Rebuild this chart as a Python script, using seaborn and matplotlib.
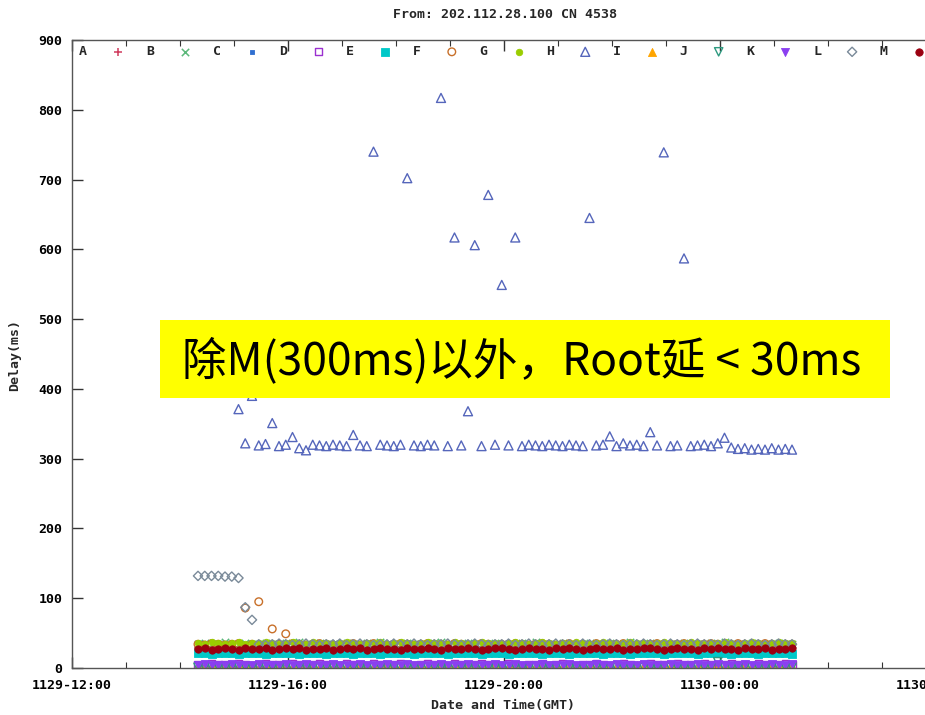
import numpy as np
import pandas as pd
import matplotlib
matplotlib.use("Agg")
import matplotlib.pyplot as plt
import seaborn as sns
from matplotlib.patches import Rectangle
from matplotlib.ticker import MultipleLocator

# ---------------- data ----------------
start_hour = 14 + 20 / 60        # first sample 1129-14:20 (hours since 1129-00:00)
step_minutes = 7.5               # sampling interval
n_samples = 89

series_names = ["A", "B", "C", "D", "E", "F", "G", "H", "I", "J", "K", "L", "M"]

A = [29,28,30,29,31,28,29,30,28,29, 30,29,28,31,29,30,28,29,29,30,
     28,29,31,30,29,28,30,29,28,29, 30,31,29,28,29,30,29,28,30,29,
     29,30,28,29,31,29,28,30,29,29, 30,28,29,30,29,31,28,29,30,29,
     28,29,30,29,28,31,29,30,29,28, 29,30,29,28,30,29,31,29,28,30,
     29,28,30,29,29,30,28,29,30]
B = [35,36,34,35,37,35,34,36,35,35, 36,34,35,36,35,37,34,35,36,35,
     34,35,36,35,34,36,35,37,35,34, 35,36,35,34,35,36,37,35,34,35,
     36,35,34,35,36,35,35,34,36,35, 37,35,34,35,36,35,34,35,36,35,
     35,36,34,35,37,35,34,36,35,35, 34,35,36,35,34,35,36,35,37,35,
     34,35,36,35,35,34,36,35,35]
C = [1,2,1,0,1,1,2,1,1,0, 1,2,1,1,0,1,1,2,1,1,
     0,1,1,2,1,1,0,1,2,1, 1,0,1,1,2,1,1,0,1,1,
     2,1,1,0,1,2,1,1,0,1, 1,2,1,1,0,1,1,2,1,0,
     1,1,2,1,1,0,1,1,2,1, 1,0,1,2,1,1,0,1,1,2,
     1,1,0,1,1,2,1,0,1]
D = [5,4,6,5,5,4,6,5,4,5, 6,5,5,4,6,5,4,5,6,5,
     5,4,6,5,5,4,6,5,4,5, 6,5,4,5,6,5,5,4,6,5,
     4,5,6,5,5,4,6,5,4,5, 5,6,4,5,6,5,4,5,5,6,
     5,4,5,6,5,4,5,6,5,5, 4,6,5,5,4,6,5,4,5,6,
     5,5,4,6,5,4,5,6,5]
E = [21,22,20,21,21,22,20,21,22,21, 20,21,22,21,21,20,22,21,21,20,
     21,22,21,20,21,21,22,20,21,21, 22,21,20,21,22,21,21,20,21,22,
     21,21,20,22,21,21,20,21,22,21, 21,20,21,22,21,20,21,21,22,21,
     20,21,21,22,20,21,21,22,21,20, 21,22,21,21,20,21,22,21,21,20,
     21,22,21,20,21,21,22,21,20]
F = [34,33,35,34,33,34,35,86,34,95, 33,56,34,49,35,34,33,34,35,34,
     33,34,34,35,33,34,35,34,33,34, 35,34,33,34,35,34,34,33,35,34,
     33,34,35,34,33,34,34,35,34,33, 34,35,34,33,34,35,34,34,33,35,
     34,33,34,35,34,33,34,34,35,34, 33,34,35,34,33,34,35,34,34,33,
     35,34,33,34,35,34,33,34,34]
G = [36,35,37,36,35,36,37,35,36,36, 37,36,35,36,37,36,35,37,36,36,
     35,36,37,36,35,36,36,37,35,36, 37,36,35,36,37,36,36,35,37,36,
     35,36,37,36,36,35,36,37,36,35, 36,37,36,35,36,36,37,36,35,36,
     37,36,35,36,37,36,36,35,36,37, 36,35,36,37,36,35,36,36,37,36,
     35,36,37,36,35,36,37,36,36]
H = [None,None,None,None,None,None,371,322,390,319,
     321,351,318,320,331,315,312,320,319,318,
     320,319,318,334,319,318,740,320,319,318,
     320,702,319,318,320,319,817,318,617,319,
     368,606,318,678,320,549,319,617,318,320,
     319,318,320,319,318,320,319,318,645,319,
     320,332,318,322,319,320,318,338,319,739,
     318,319,587,318,319,320,318,322,330,316,
     314,315,313,314,313,315,313,314,313]
I = [3,2,4,3,3,2,3,4,3,2, 3,3,4,2,3,3,2,4,3,3,
     2,3,4,3,3,2,3,3,4,2, 3,3,2,4,3,3,2,3,4,3,
     3,2,3,3,4,2,3,3,2,4, 3,3,2,3,4,3,3,2,3,3,
     4,2,3,3,2,4,3,3,2,3, 4,3,3,2,3,3,4,2,3,3,
     2,4,3,3,2,3,4,3,3]
J = [1,1,2,1,0,1,2,1,1,1, 2,1,0,1,1,2,1,1,0,1,
     1,2,1,1,0,1,1,2,1,1, 0,1,2,1,1,1,0,1,2,1,
     1,1,2,0,1,1,1,2,1,0, 1,1,2,1,1,0,1,1,2,1,
     1,0,1,2,1,1,1,0,1,2, 1,1,0,1,2,1,1,9,1,0,
     2,1,1,1,0,1,2,1,1]
K = [5,6,4,5,5,6,5,4,5,6, 5,5,4,6,5,5,6,4,5,5,
     6,5,4,5,6,5,5,4,6,5, 5,6,5,4,5,5,6,5,4,5,
     6,5,5,4,6,5,5,6,4,5, 5,6,5,4,5,6,5,5,4,6,
     5,5,6,4,5,5,6,5,4,5, 6,5,5,4,6,5,5,6,5,4,
     5,6,5,5,4,6,5,5,6]
L = [132,132,132,132,131,131,129,87,69,34, 33,34,35,34,33,34,35,34,33,34,
     34,35,33,34,35,34,33,34,34,35, 33,34,35,34,33,34,34,35,34,33,
     34,35,34,33,34,34,35,33,34,35, 34,33,34,35,34,34,33,35,34,33,
     34,35,34,33,34,34,35,34,33,34, 35,34,33,34,35,34,34,33,35,34,
     33,34,35,34,33,34,35,34,34]
M = [27,28,26,27,29,27,26,28,27,27, 28,26,27,29,27,28,26,27,27,28,
     26,27,28,27,29,26,27,28,27,27, 26,28,27,27,29,27,26,28,27,27,
     28,27,26,27,28,29,27,26,27,28, 27,27,26,28,27,29,27,26,27,28,
     27,27,28,26,27,27,29,28,27,26, 27,28,27,27,26,28,27,29,27,27,
     26,28,27,27,28,26,27,27,28]

xtick_hours = [12, 16, 20, 24, 28]
xtick_labels = ["1129-12:00", "1129-16:00", "1129-20:00", "1130-00:00", "1130-04:00"]
ytick_values = [0, 100, 200, 300, 400, 500, 600, 700, 800, 900]

title_text = "From: 202.112.28.100 CN 4538"
xlabel_text = "Date and Time(GMT)"
ylabel_text = "Delay(ms)"
note_text = "除M(300ms)以外，Root延 < 30ms"

# ---------------- styles ----------------
styles = {
    "A": dict(marker="+", color="#d03a5c", kind="line", s=36),
    "B": dict(marker="x", color="#5cb87a", kind="line", s=28),
    "C": dict(marker="s", color="#2f6fd0", kind="filled", s=12),
    "D": dict(marker="s", color="#9b30d0", kind="open", s=28),
    "E": dict(marker="s", color="#00c8c8", kind="filled", s=26),
    "F": dict(marker="o", color="#c8702a", kind="open", s=30),
    "G": dict(marker="o", color="#9acd00", kind="filled", s=22),
    "H": dict(marker="^", color="#5566bb", kind="open", s=42),
    "I": dict(marker="^", color="#ffa500", kind="filled", s=34),
    "J": dict(marker="v", color="#2e9a80", kind="open", s=36),
    "K": dict(marker="v", color="#8a3ff0", kind="filled", s=34),
    "L": dict(marker="D", color="#7a8a99", kind="open", s=22),
    "M": dict(marker="o", color="#9a0010", kind="filled", s=28),
}

data = dict(A=A, B=B, C=C, D=D, E=E, F=F, G=G, H=H, I=I, J=J, K=K, L=L, M=M)
for k, v in data.items():
    if len(v) != n_samples:
        raise ValueError(f"series {k} has {len(v)} values")

times = start_hour + np.arange(n_samples) * step_minutes / 60.0

# ---------------- plot ----------------
sns.set_theme(style="ticks")
plt.rcParams["font.family"] = ["DejaVu Sans Mono", "DejaVu Sans"]
plt.rcParams["font.weight"] = "bold"

fig = plt.figure(figsize=(9.25, 7.15), dpi=100)
fig.patch.set_facecolor("white")
ax = fig.add_axes([72 / 925, 47 / 715, 972 / 925, 628 / 715])
ax.set_facecolor("white")

for name in series_names:
    st = styles[name]
    df = pd.DataFrame({"t": times, "v": pd.to_numeric(pd.Series(data[name]), errors="coerce")}).dropna()
    if st["kind"] == "line":
        sns.scatterplot(data=df, x="t", y="v", marker=st["marker"], color=st["color"],
                        s=st["s"], linewidth=1.1, ax=ax, label=name)
    elif st["kind"] == "filled":
        sns.scatterplot(data=df, x="t", y="v", marker=st["marker"], color=st["color"],
                        edgecolor=st["color"], s=st["s"], linewidth=0.6, ax=ax, label=name)
    else:
        sns.scatterplot(data=df, x="t", y="v", marker=st["marker"], facecolor="none",
                        edgecolor=st["color"], s=st["s"], linewidth=1.0, ax=ax, label=name)

ax.set_xlim(12, 30)
ax.set_ylim(0, 900)
ax.set_xticks(xtick_hours)
ax.set_xticklabels(xtick_labels)
ax.xaxis.set_minor_locator(MultipleLocator(1))
ax.set_yticks(ytick_values)
ax.set_yticklabels([str(v) for v in ytick_values])
ax.set_xlabel("")
ax.set_ylabel("")
ax.tick_params(axis="both", which="both", direction="in", top=True, right=True,
               bottom=True, left=True, colors="#333333", labelcolor="black")
ax.tick_params(axis="both", which="major", length=8, width=1.0, labelsize=9.5)
ax.tick_params(axis="both", which="minor", length=4, width=0.8)
ax.tick_params(axis="x", pad=8)
ax.tick_params(axis="y", pad=7)
for sp in ax.spines.values():
    sp.set_visible(True)
    sp.set_color("#555555")
    sp.set_linewidth(1.0)

ax.legend(ncol=13, loc="upper left", bbox_to_anchor=(0.002, 1.0), frameon=False,
          markerfirst=False, handlelength=1.0, handletextpad=1.85, columnspacing=1.6,
          borderaxespad=0, borderpad=0.4, scatterpoints=1,
          prop=dict(family="DejaVu Sans Mono", weight="bold", size=9.5))

fig.text(505 / 925, 1 - 15 / 715, title_text, ha="center", va="center",
         fontsize=9.5, fontweight="bold", family="DejaVu Sans Mono")
fig.text(503 / 925, 1 - 706 / 715, xlabel_text, ha="center", va="center",
         fontsize=9.5, fontweight="bold", family="DejaVu Sans Mono")
fig.text(15 / 925, 1 - 355 / 715, ylabel_text, ha="center", va="center", rotation=90,
         fontsize=9.5, fontweight="bold", family="DejaVu Sans Mono")

# yellow annotation box
fig.add_artist(Rectangle((160 / 925, 1 - 398 / 715), 730 / 925, 78 / 715,
                         transform=fig.transFigure, facecolor="#ffff00",
                         edgecolor="none", zorder=5))
fig.text(522 / 925, 1 - 361 / 715, note_text, ha="center", va="center",
         fontsize=32, fontweight="normal", color="black", zorder=6,
         family=["Noto Sans CJK SC", "DejaVu Sans"])

fig.savefig("out.png", dpi=100)
